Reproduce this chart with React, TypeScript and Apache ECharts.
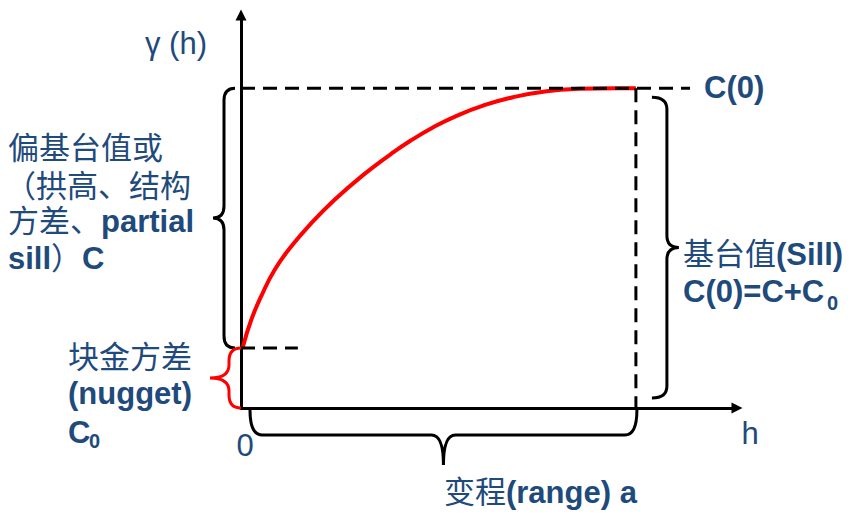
import React, { useEffect, useRef } from 'react';
import * as echarts from 'echarts';

// Semivariogram curve (lag h in units where range a = 10, gamma in units of C0)
const LAG = [0.04, 0.26, 0.51, 0.85, 1.27, 1.78, 2.37, 3.05, 3.77, 4.28, 4.87, 5.46, 6.13, 6.89, 7.74, 8.58, 9.51, 10];
const GAMMA = [1.0, 1.47, 1.86, 2.3, 2.69, 3.08, 3.47, 3.86, 4.22, 4.45, 4.68, 4.87, 5.04, 5.18, 5.28, 5.32, 5.33, 5.33];

const NUGGET = 1;
const SILL = 5.33;
const RANGE = 10;
const SILL_LINE_END = 11.37;
const NUGGET_LINE_END = 1.44;
const X_MAX = 12.56;
const Y_MAX = 6.55;

const BLUE = '#1F4A7C';
const FF = '"Liberation Sans", Arial, "Noto Sans CJK SC", sans-serif';
const FS = 31;

function vBrace(xe: number, xb: number, xt: number, y1: number, y2: number, r: number) {
  const ym = (y1 + y2) / 2;
  return `M ${xe} ${y1} Q ${xb} ${y1} ${xb} ${y1 + r} L ${xb} ${ym - r} Q ${xb} ${ym} ${xt} ${ym} Q ${xb} ${ym} ${xb} ${ym + r} L ${xb} ${y2 - r} Q ${xb} ${y2} ${xe} ${y2}`;
}
function hBrace(x1: number, x2: number, ye: number, yb: number, yt: number, r: number) {
  const xm = (x1 + x2) / 2;
  return `M ${x1} ${ye} Q ${x1} ${yb} ${x1 + r} ${yb} L ${xm - r} ${yb} Q ${xm} ${yb} ${xm} ${yt} Q ${xm} ${yb} ${xm + r} ${yb} L ${x2 - r} ${yb} Q ${x2} ${yb} ${x2} ${ye}`;
}

const rich = {
  n: { fontSize: FS, fontFamily: FF, fontWeight: 'normal', fill: BLUE },
  b: { fontSize: FS, fontFamily: FF, fontWeight: 'bold', fill: BLUE },
};

function txt(x: number, y: number, text: string, align: string = 'left') {
  return {
    type: 'text',
    x,
    y,
    silent: true,
    style: { text, rich, textAlign: align, textVerticalAlign: 'middle', fill: BLUE, font: `${FS}px ${FF}` },
  };
}
function sub(x: number, y: number, text: string) {
  return {
    type: 'text',
    x,
    y,
    silent: true,
    style: { text, fill: BLUE, fontSize: 20, fontWeight: 'bold', fontFamily: FF, textAlign: 'left', textVerticalAlign: 'middle' },
  };
}

export default function App() {
  const ref = useRef<HTMLDivElement>(null);
  useEffect(() => {
    if (!ref.current) return;
    const chart = echarts.init(ref.current, undefined, { renderer: 'svg' });
    const dash = { color: '#000', width: 3, type: [14, 8] as any };
    chart.setOption({
      animation: false,
      grid: { left: 241, top: 15, right: 116, bottom: 108 },
      xAxis: {
        type: 'value', min: 0, max: X_MAX,
        axisLine: { show: true, onZero: false, lineStyle: { color: '#000', width: 3 }, symbol: ['none', 'triangle'], symbolSize: [11, 11] },
        axisTick: { show: false }, axisLabel: { show: false }, splitLine: { show: false },
      },
      yAxis: {
        type: 'value', min: 0, max: Y_MAX,
        axisLine: { show: true, onZero: false, lineStyle: { color: '#000', width: 3 }, symbol: ['none', 'triangle'], symbolSize: [11, 11] },
        axisTick: { show: false }, axisLabel: { show: false }, splitLine: { show: false },
      },
      series: [
        {
          type: 'line', data: LAG.map((x, i) => [x, GAMMA[i]]), smooth: 0.5, symbol: 'none',
          lineStyle: { color: '#FF0000', width: 4 }, z: 3, silent: true,
        },
        { type: 'line', data: [[0, SILL], [SILL_LINE_END, SILL]], symbol: 'none', lineStyle: dash, z: 4, silent: true },
        { type: 'line', data: [[RANGE, SILL], [RANGE, 0]], symbol: 'none', lineStyle: dash, z: 4, silent: true },
        { type: 'line', data: [[0, NUGGET], [NUGGET_LINE_END, NUGGET]], symbol: 'none', lineStyle: dash, z: 4, silent: true },
        {
          type: 'custom', clip: false, silent: true, z: 5,
          data: [[0, 0]],
          renderItem: (params: any, api: any) => {
            const o = api.coord([0, 0]);
            const ns = api.coord([0, NUGGET]);
            const s = api.coord([0, SILL]);
            const ra = api.coord([RANGE, 0]);
            const st = (c: string) => ({ stroke: c, lineWidth: 3, fill: 'none' });
            return {
              type: 'group',
              children: [
                { type: 'path', shape: { pathData: vBrace(o[0] - 6, o[0] - 17, o[0] - 28, s[1], ns[1], 12) }, style: st('#000') },
                { type: 'path', shape: { pathData: vBrace(o[0], o[0] - 12, o[0] - 31, ns[1], o[1], 13) }, style: st('#FF0000') },
                { type: 'path', shape: { pathData: vBrace(ra[0] + 16, ra[0] + 31, ra[0] + 43, s[1] + 9, o[1] - 10, 12) }, style: st('#000') },
                { type: 'path', shape: { pathData: hBrace(o[0] + 9, ra[0] + 1, o[1] + 2, o[1] + 27, o[1] + 57, 12) }, style: st('#000') },
              ],
            };
          },
        },
      ],
      graphic: [
        txt(145, 43, '{n|γ (h)}'),
        txt(704, 87, '{b|C(0)}'),
        txt(8, 148, '{n|偏基台值或}'),
        txt(5, 186, '{n|（拱高、结构}'),
        txt(8, 221, '{n|方差、}{b|partial}'),
        txt(8, 258, '{b|sill}{n|）}{b|C}'),
        txt(68, 357, '{n|块金方差}'),
        txt(68, 393, '{b|(nugget)}'),
        txt(68, 432, '{b|C}'),
        sub(89, 441, '0'),
        txt(245, 445, '{n|0}', 'center'),
        txt(750, 433, '{n|h}', 'center'),
        txt(683, 254, '{n|基台值}{b|(Sill)}'),
        txt(683, 291, '{b|C(0)=C+C}'),
        sub(827, 303, '0'),
        txt(444, 492, '{n|变程}{b|(range) a}'),
      ],
    });
    return () => chart.dispose();
  }, []);
  return <div ref={ref} style={{ position: 'absolute', left: 0, top: 0, width: 853, height: 516, background: '#fff' }} />;
}
